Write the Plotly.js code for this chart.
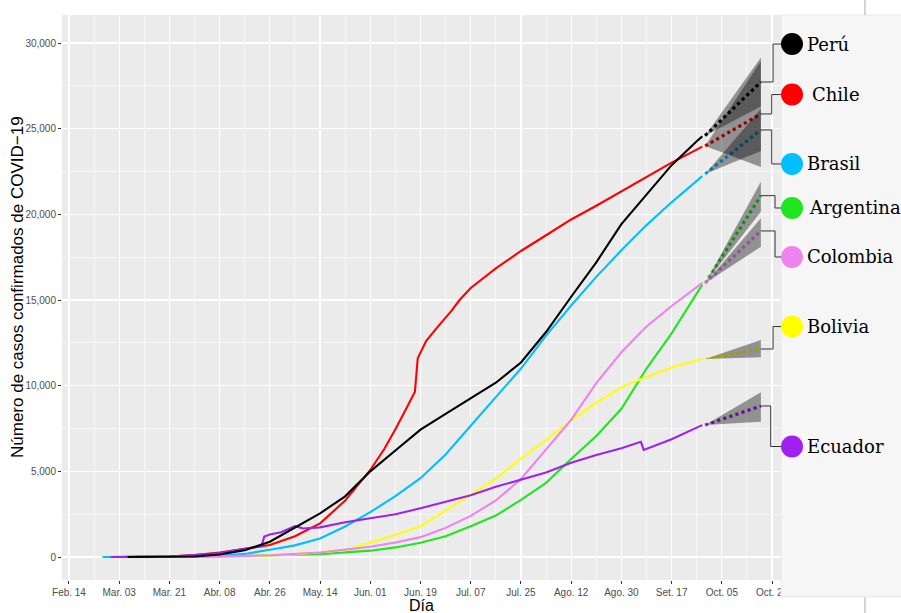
<!DOCTYPE html>
<html><head><meta charset="utf-8">
<script src="https://cdn.plot.ly/plotly-3.0.1.min.js"></script>
<style>html,body{margin:0;padding:0;background:#fff;} #chart{width:901px;height:613px;}</style>
</head><body><div id="chart"></div>
<script>
// ---------------- DATA ----------------
const countries = ['Argentina','Bolivia','Brasil','Chile','Colombia','Ecuador','Perú'];
const colors    = ['#1fe61f','#ffff00','#00bfff','#ff0000','#ee82ee','#a020f0','#000000'];

const tickVals  = ['2020-02-14','2020-03-03','2020-03-21','2020-04-08','2020-04-26','2020-05-14','2020-06-01','2020-06-19','2020-07-07','2020-07-25','2020-08-12','2020-08-30','2020-09-17','2020-10-05','2020-10-23'];
const tickText  = ['Feb. 14','Mar. 03','Mar. 21','Abr. 08','Abr. 26','May. 14','Jun. 01','Jun. 19','Jul. 07','Jul. 25','Ago. 12','Ago. 30','Set. 17','Oct. 05','Oct. 23'];
const yTickVals = [0,5000,10000,15000,20000,25000,30000];

const argentinaDates = ['2020-03-03','2020-03-21','2020-04-08','2020-04-26','2020-05-14','2020-06-01','2020-06-10','2020-06-19','2020-06-28','2020-07-07','2020-07-16','2020-07-25','2020-08-03','2020-08-12','2020-08-21','2020-08-30','2020-09-08','2020-09-17','2020-09-26','2020-09-28'];
const argentinaCases = [0,3,35,85,170,370,560,830,1210,1800,2420,3330,4330,5720,7060,8650,11000,13050,15450,15900];

const boliviaDates = ['2020-03-10','2020-03-30','2020-04-17','2020-05-05','2020-05-23','2020-06-01','2020-06-10','2020-06-19','2020-06-28','2020-07-07','2020-07-16','2020-07-25','2020-08-03','2020-08-12','2020-08-21','2020-08-30','2020-09-08','2020-09-17','2020-09-26','2020-09-28'];
const boliviaCases = [0,7,45,150,400,850,1290,1800,2700,3620,4570,5750,6830,7980,9000,9900,10520,11060,11470,11560];

const brasilDates = ['2020-02-26','2020-03-12','2020-03-21','2020-03-30','2020-04-08','2020-04-17','2020-04-26','2020-05-05','2020-05-14','2020-05-23','2020-06-01','2020-06-10','2020-06-19','2020-06-28','2020-07-07','2020-07-16','2020-07-25','2020-08-03','2020-08-12','2020-08-21','2020-08-30','2020-09-08','2020-09-17','2020-09-26','2020-09-28'];
const brasilCases = [0,1,5,22,75,180,420,680,1080,1780,2620,3550,4600,5980,7660,9300,11000,12920,14680,16350,17900,19370,20700,21950,22230];

const chileDates = ['2020-03-03','2020-03-12','2020-03-21','2020-03-30','2020-04-08','2020-04-17','2020-04-26','2020-05-05','2020-05-14','2020-05-23','2020-06-01','2020-06-06','2020-06-10','2020-06-14','2020-06-17','2020-06-18','2020-06-21','2020-06-25','2020-06-30','2020-07-03','2020-07-07','2020-07-16','2020-07-25','2020-08-03','2020-08-12','2020-08-21','2020-08-30','2020-09-08','2020-09-17','2020-09-26','2020-09-28'];
const chileCases = [0,5,20,110,260,480,700,1210,1965,3290,5080,6300,7450,8700,9650,11600,12600,13400,14350,15000,15700,16850,17860,18780,19700,20500,21330,22180,23020,23780,23950];

const colombiaDates = ['2020-03-06','2020-03-21','2020-04-08','2020-04-26','2020-05-14','2020-06-01','2020-06-10','2020-06-19','2020-06-28','2020-07-07','2020-07-16','2020-07-25','2020-08-03','2020-08-12','2020-08-21','2020-08-30','2020-09-08','2020-09-17','2020-09-26','2020-09-28'];
const colombiaCases = [0,3,35,100,260,600,850,1160,1700,2400,3300,4550,6250,8000,10150,11950,13450,14650,15750,16000];

const ecuadorDates = ['2020-02-29','2020-03-12','2020-03-21','2020-03-30','2020-04-08','2020-04-17','2020-04-23','2020-04-24','2020-04-26','2020-04-30','2020-05-05','2020-05-08','2020-05-14','2020-05-23','2020-06-01','2020-06-10','2020-06-19','2020-06-28','2020-07-07','2020-07-16','2020-07-25','2020-08-03','2020-08-12','2020-08-21','2020-08-30','2020-09-06','2020-09-07','2020-09-17','2020-09-26','2020-09-28'];
const ecuadorCases = [0,1,30,110,230,480,630,1200,1320,1450,1800,1660,1730,2030,2260,2500,2840,3200,3600,4100,4500,4930,5500,5950,6350,6720,6250,6870,7550,7700];

const peruDates = ['2020-03-06','2020-03-21','2020-03-30','2020-04-08','2020-04-17','2020-04-26','2020-05-05','2020-05-14','2020-05-23','2020-06-01','2020-06-10','2020-06-19','2020-06-28','2020-07-07','2020-07-16','2020-07-25','2020-08-03','2020-08-12','2020-08-21','2020-08-30','2020-09-08','2020-09-17','2020-09-26','2020-09-28'];
const peruCases = [0,10,30,150,400,895,1730,2549,3540,5000,6220,7430,8350,9250,10170,11350,13130,15190,17200,19430,21180,22870,24270,24550];

// forecasts (start, end) with interval bounds
const fcDates = ['2020-09-29','2020-10-19'];
const argentinaFc = [15976,21090], argentinaLo = [15976,20155], argentinaHi = [15976,21907];
const boliviaFc   = [11560,12140], boliviaLo   = [11560,11656], boliviaHi   = [11560,12667];
const brasilFc    = [22355,24925], brasilLo    = [22355,23700], brasilHi    = [22355,26150];
const chileFc     = [23990,25860], chileLo     = [23990,22765], chileHi     = [23990,28950];
const colombiaFc  = [15976,19030], colombiaLo  = [15976,18110], colombiaHi  = [15976,19770];
const ecuadorFc   = [7705,8814],   ecuadorLo   = [7705,7898],   ecuadorHi   = [7705,9613];
const peruFc      = [24590,27725], peruLo      = [24590,26300], peruHi      = [24590,29150];

// ---------------- LAYOUT CONSTANTS ----------------
const obs = {
  'Argentina':[argentinaDates,argentinaCases],'Bolivia':[boliviaDates,boliviaCases],'Brasil':[brasilDates,brasilCases],
  'Chile':[chileDates,chileCases],'Colombia':[colombiaDates,colombiaCases],'Ecuador':[ecuadorDates,ecuadorCases],'Perú':[peruDates,peruCases]};
const fc = {
  'Argentina':[argentinaFc,argentinaLo,argentinaHi],'Bolivia':[boliviaFc,boliviaLo,boliviaHi],'Brasil':[brasilFc,brasilLo,brasilHi],
  'Chile':[chileFc,chileLo,chileHi],'Colombia':[colombiaFc,colombiaLo,colombiaHi],'Ecuador':[ecuadorFc,ecuadorLo,ecuadorHi],'Perú':[peruFc,peruLo,peruHi]};
// label placement (y in data units, x in paper units)
const labelY   = {'Perú':29940,'Chile':26990,'Brasil':22940,'Argentina':20370,'Colombia':17510,'Bolivia':13450,'Ecuador':6450};
const elbowX   = {'Perú':0.9889,'Chile':0.9871,'Brasil':0.9871,'Argentina':0.9917,'Colombia':0.9917,'Bolivia':0.9889,'Ecuador':0.9857};
const textX    = {'Perú':1.0334,'Chile':1.0403,'Brasil':1.0334,'Argentina':1.0362,'Colombia':1.0334,'Bolivia':1.0334,'Ecuador':1.0334};
const xRange = ['2020-02-11 12:00','2020-10-26 05:00'];
const yRange = [-1342, 31634];

function toMs(s){ return s.length===10 ? Date.parse(s+'T00:00:00Z') : Date.parse(s.replace(' ','T')+':00Z'); }
function xPaper(d){ return (toMs(d)-toMs(xRange[0]))/(toMs(xRange[1])-toMs(xRange[0])); }
function yPaper(v){ return (v-yRange[0])/(yRange[1]-yRange[0]); }

const traces = [];
countries.forEach((c,i)=>{
  traces.push({type:'scatter',mode:'lines',x:obs[c][0],y:obs[c][1],line:{color:colors[i],width:2.1},hoverinfo:'skip',showlegend:false});
});
countries.forEach((c,i)=>{
  traces.push({type:'scatter',mode:'lines',x:fcDates,y:fc[c][0],line:{color:colors[i],width:3.2,dash:'dot'},hoverinfo:'skip',showlegend:false});
});
countries.forEach((c,i)=>{
  const xs = fcDates.concat(fcDates.slice().reverse());
  const ys = fc[c][2].concat(fc[c][1].slice().reverse());
  traces.push({type:'scatter',mode:'lines',x:xs,y:ys,fill:'toself',fillcolor:'rgba(0,0,0,0.38)',line:{width:0},hoverinfo:'skip',showlegend:false});
});

const shapes = [];
// label panel
shapes.push({type:'rect',xref:'paper',yref:'paper',x0:1.0,x1:1.18,y0:-0.030,y1:1.0,fillcolor:'#f6f6f6',line:{color:'#e8e8e8',width:1},layer:'above'});
shapes.push({type:'line',xref:'paper',yref:'paper',x0:1.1168,x1:1.1168,y0:1.0,y1:1.03,line:{color:'#aaaaaa',width:1},layer:'above'});
shapes.push({type:'line',xref:'paper',yref:'paper',x0:1.1168,x1:1.1168,y0:-0.031,y1:-0.06,line:{color:'#aaaaaa',width:1},layer:'above'});
const annotations = [];
countries.forEach((c,i)=>{
  const x0 = xPaper(fcDates[1]);
  const y0 = yPaper(fc[c][0][1]);
  const yl = yPaper(labelY[c]);
  shapes.push({type:'path',xref:'paper',yref:'paper',layer:'above',
    path:`M ${x0},${y0} H ${elbowX[c]} V ${yl} H 1.0014`,line:{color:'#333333',width:1}});
  shapes.push({type:'circle',xref:'paper',yref:'paper',layer:'above',
    xsizemode:'pixel',xanchor:1.0153,x0:-11,x1:11,ysizemode:'pixel',yanchor:yl,y0:-11,y1:11,
    fillcolor:colors[i],line:{color:colors[i],width:0}});
  annotations.push({xref:'paper',yref:'paper',x:textX[c],y:yl,xanchor:'left',yanchor:'middle',showarrow:false,
    text:c,font:{family:'DejaVu Serif, serif',size:18,color:'#000'}});
});
// axis titles
annotations.push({xref:'paper',yref:'paper',x:0.5,y:-0.0460,xanchor:'center',yanchor:'middle',showarrow:false,
  text:'Día',font:{family:'Liberation Sans, Arial, sans-serif',size:16,color:'#000'}});
annotations.push({xref:'paper',yref:'paper',x:-0.0612,y:0.5186,xanchor:'center',yanchor:'middle',showarrow:false,textangle:-90,
  text:'Número de casos confirmados de COVID−19',font:{family:'Liberation Sans, Arial, sans-serif',size:17,color:'#000'}});

const layout = {
  width:901,height:613,margin:{l:62,r:120,t:15,b:33,pad:0},
  paper_bgcolor:'#ffffff',plot_bgcolor:'#ebebeb',showlegend:false,
  font:{family:'Liberation Sans, Arial, sans-serif'},
  xaxis:{type:'date',range:xRange,tickmode:'array',tickvals:tickVals,ticktext:tickText,
    ticks:'outside',ticklen:3,tickwidth:1,tickcolor:'#333333',tickfont:{size:10,color:'#4d4d4d'},
    showgrid:true,gridcolor:'#ffffff',gridwidth:1.2,zeroline:false,showline:false,
    minor:{tickmode:'linear',tick0:'2020-02-05',dtick:18*86400000,showgrid:true,gridcolor:'#ffffff',gridwidth:0.6,ticks:''}},
  yaxis:{range:yRange,tickmode:'array',tickvals:yTickVals,tickformat:',d',
    ticks:'outside',ticklen:3,tickwidth:1,tickcolor:'#333333',tickfont:{size:10,color:'#4d4d4d'},
    showgrid:true,gridcolor:'#ffffff',gridwidth:1.2,zeroline:false,showline:false,
    minor:{tickmode:'linear',tick0:2500,dtick:5000,showgrid:true,gridcolor:'#ffffff',gridwidth:0.6,ticks:''}},
  shapes:shapes,annotations:annotations
};
Plotly.newPlot('chart',traces,layout,{displayModeBar:false,staticPlot:true});
</script></body></html>
